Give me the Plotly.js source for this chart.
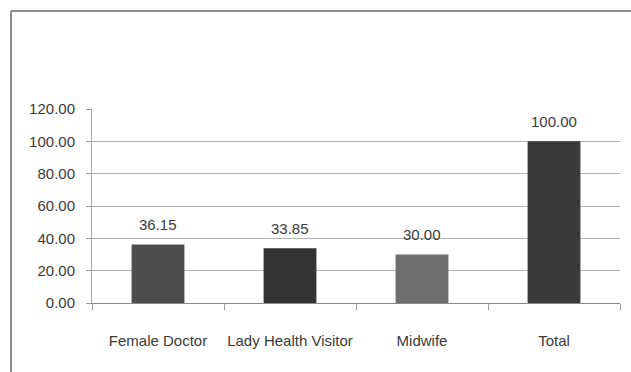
<!DOCTYPE html>
<html>
<head>
<meta charset="utf-8">
<script src="https://cdn.plot.ly/plotly-3.0.1.min.js"></script>
<style>
  html, body { margin: 0; padding: 0; background: #ffffff; }
  #chart { width: 631px; height: 372px; }
</style>
</head>
<body>
<div id="chart"></div>
<script>
// Share of trained female health staff by category (%)
const categories = ['Female Doctor', 'Lady Health Visitor', 'Midwife', 'Total'];
const shares = [36.15, 33.85, 30.00, 100.00];
const barColors = ['#4d4d4d', '#333333', '#6e6e6e', '#3a3a3a'];
const yTicks = [0, 20, 40, 60, 80, 100, 120];

const FONT = 'Liberation Sans, Arial, sans-serif';
const TEXT = '#3a3a3a';

const trace = {
  type: 'bar',
  x: categories,
  y: shares,
  marker: { color: barColors, line: { width: 0 } },
  hoverinfo: 'x+y'
};

// value labels floating above each bar
const labels = categories.map((c, i) => ({
  x: c,
  y: shares[i],
  xref: 'x',
  yref: 'y',
  text: shares[i].toFixed(2),
  showarrow: false,
  yanchor: 'middle',
  yshift: 20,
  font: { family: FONT, size: 15, color: TEXT }
}));

// thin frame along the top and left edges of the page
const frame = [
  { type: 'line', xref: 'paper', yref: 'paper', x0: -0.1534, x1: 1.05, y0: 1.5052, y1: 1.5052,
    line: { color: '#8c8c8c', width: 2 } },
  { type: 'line', xref: 'paper', yref: 'paper', x0: -0.1534, x1: -0.1534, y0: 1.5052, y1: -0.45,
    line: { color: '#8c8c8c', width: 2 } }
];

const layout = {
  width: 631,
  height: 372,
  margin: { l: 92, r: 11, t: 109, b: 69, pad: 0 },
  paper_bgcolor: '#ffffff',
  plot_bgcolor: '#ffffff',
  showlegend: false,
  bargap: 0.6,
  font: { family: FONT, size: 15, color: TEXT },
  xaxis: {
    type: 'category',
    tickson: 'boundaries',
    ticks: 'outside',
    ticklen: 6,
    tickcolor: '#9a9a9a',
    tickangle: 0,
    showline: true,
    linecolor: '#8a8a8a',
    linewidth: 1,
    showgrid: false,
    ticklabelstandoff: 24,
    tickfont: { family: FONT, size: 15, color: TEXT },
    fixedrange: true
  },
  yaxis: {
    range: [0, 120],
    tickvals: yTicks,
    tickformat: '.2f',
    ticks: 'outside',
    ticklen: 5,
    tickcolor: '#9a9a9a',
    showline: true,
    linecolor: '#a8a8a8',
    linewidth: 1,
    showgrid: true,
    gridcolor: '#b4b4b4',
    gridwidth: 1,
    zeroline: false,
    ticklabelstandoff: 8,
    tickfont: { family: FONT, size: 15, color: TEXT },
    fixedrange: true
  },
  annotations: labels,
  shapes: frame
};

Plotly.newPlot('chart', [trace], layout, { displayModeBar: false, staticPlot: true });
</script>
</body>
</html>
